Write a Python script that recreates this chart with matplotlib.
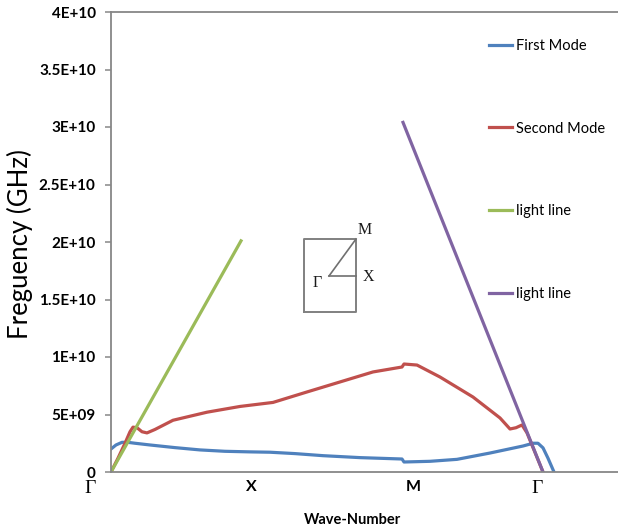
import matplotlib
matplotlib.use("Agg")
import matplotlib.pyplot as plt

# ---- data (wave-number in arbitrary path units, frequency in Hz) ----
k_first = [0, 5, 11, 17, 24, 39, 64, 89, 114, 139, 159, 184, 212, 249, 291, 293,
           319, 346, 379, 412, 422, 427, 432, 437, 443]
f_first = [2.0e9, 2.35e9, 2.58e9, 2.58e9, 2.5e9, 2.35e9, 2.12e9, 1.92e9, 1.8e9, 1.75e9,
           1.72e9, 1.6e9, 1.42e9, 1.25e9, 1.13e9, 0.87e9,
           0.93e9, 1.1e9, 1.65e9, 2.26e9, 2.5e9, 2.5e9, 2.1e9, 1.2e9, 0.0]

k_second = [0, 7, 14, 19, 22, 26, 31, 36, 44, 62, 96, 129, 162, 196, 229, 262, 291, 293,
            306, 329, 362, 389, 399, 405, 411, 416, 424, 432]
f_second = [0.0, 1.2e9, 2.5e9, 3.5e9, 3.9e9, 3.85e9, 3.5e9, 3.4e9, 3.7e9, 4.5e9, 5.2e9,
            5.7e9, 6.05e9, 6.96e9, 7.83e9, 8.7e9, 9.13e9, 9.39e9,
            9.3e9, 8.26e9, 6.52e9, 4.7e9, 3.74e9, 3.85e9, 4.09e9, 3.4e9, 1.7e9, 0.0]

k_light1 = [0, 130]
f_light1 = [0.0, 2.01e10]

k_light2 = [292, 432]
f_light2 = [3.04e10, 0.0]

series_names = ["First Mode", "Second Mode", "light line", "light line"]
y_ticks = [0, 5e9, 1e10, 1.5e10, 2e10, 2.5e10, 3e10, 3.5e10, 4e10]
y_tick_labels = ["0", "5E+09", "1E+10", "1.5E+10", "2E+10", "2.5E+10", "3E+10", "3.5E+10", "4E+10"]
sym_labels = ["\u0393", "X", "M", "\u0393"]
sym_pos = [-21, 140, 302, 426]

# ---- styling ----
W, H = 618, 526
fig = plt.figure(figsize=(W / 100, H / 100), dpi=100)
ax = fig.add_axes([111 / W, 54 / H, (W - 111) / W, 460 / H])

colors = ["#4F81BD", "#C0504D", "#9BBB59", "#8064A2"]
lw = 2.3
ax.plot(k_first, f_first, color=colors[0], lw=lw, label=series_names[0], solid_joinstyle="round")
ax.plot(k_second, f_second, color=colors[1], lw=lw, label=series_names[1], solid_joinstyle="round")
ax.plot(k_light1, f_light1, color=colors[2], lw=lw, label=series_names[2])
ax.plot(k_light2, f_light2, color=colors[3], lw=lw, label=series_names[3])

ax.set_xlim(0, W - 111)
ax.set_ylim(0, 4e10)

axis_gray = "#878787"
for s in ["left", "bottom", "top"]:
    ax.spines[s].set_color(axis_gray)
    ax.spines[s].set_linewidth(1.3)
ax.spines["right"].set_visible(False)

ax.set_yticks(y_ticks)
ax.set_yticklabels(y_tick_labels, fontfamily="Lato", fontweight="bold", fontsize=11)
ax.tick_params(axis="y", direction="out", length=4, width=1.1, color=axis_gray, pad=7)
ax.set_xticks([])

ax.set_ylabel("Freguency (GHz)", fontfamily="Lato", fontsize=18.5, va="center")
ax.yaxis.set_label_coords((20 - 111) / (W - 111), 0.495)
ax.set_xlabel("Wave-Number", fontfamily="Lato", fontweight="bold", fontsize=10.5)
ax.xaxis.set_label_coords((352 - 111) / (W - 111), (472 - 513) / 460)

trans = ax.get_xaxis_transform()
for lab, p in zip(sym_labels, sym_pos):
    if lab == "\u0393":
        ax.text(p, -0.035, lab, transform=trans, ha="center", va="center",
                fontfamily="Liberation Serif", fontsize=14, clip_on=False)
    else:
        ax.text(p, -0.033, lab, transform=trans, ha="center", va="center",
                fontfamily="Lato", fontweight="bold", fontsize=11.5, clip_on=False)

leg = ax.legend(loc="upper left", bbox_to_anchor=(489 / W, (H - 39) / H),
                bbox_transform=fig.transFigure, frameon=False,
                prop={"family": "Lato", "size": 10.5},
                labelspacing=4.7, handlelength=1.6, handletextpad=0.25,
                borderpad=0, borderaxespad=0)

# ---- Brillouin zone inset ----
iax = fig.add_axes([304 / W, (H - 312) / H, 52 / W, 73 / H])
iax.set_xlim(0, 52)
iax.set_ylim(0, 73)
iax.axis("off")
box_gray = "#808080"
iax.plot([0, 52, 52, 0, 0], [0, 0, 73, 73, 0], color=box_gray, lw=1.4, clip_on=False)
iax.plot([25, 52], [36, 36], color="#707070", lw=1.2, clip_on=False)
iax.plot([25, 52], [36, 73], color="#707070", lw=1.2, clip_on=False)
iax.text(61, 82, "M", ha="center", va="center", fontfamily="Liberation Serif", fontsize=11.5,
         color="#1a1a1a", clip_on=False)
iax.text(64, 35, "X", ha="center", va="center", fontfamily="Liberation Serif", fontsize=11.5,
         color="#1a1a1a", clip_on=False)
iax.text(13, 29, "\u0393", ha="center", va="center", fontfamily="Liberation Serif", fontsize=11.5,
         color="#1a1a1a", clip_on=False)

fig.savefig("out.png", dpi=100)
